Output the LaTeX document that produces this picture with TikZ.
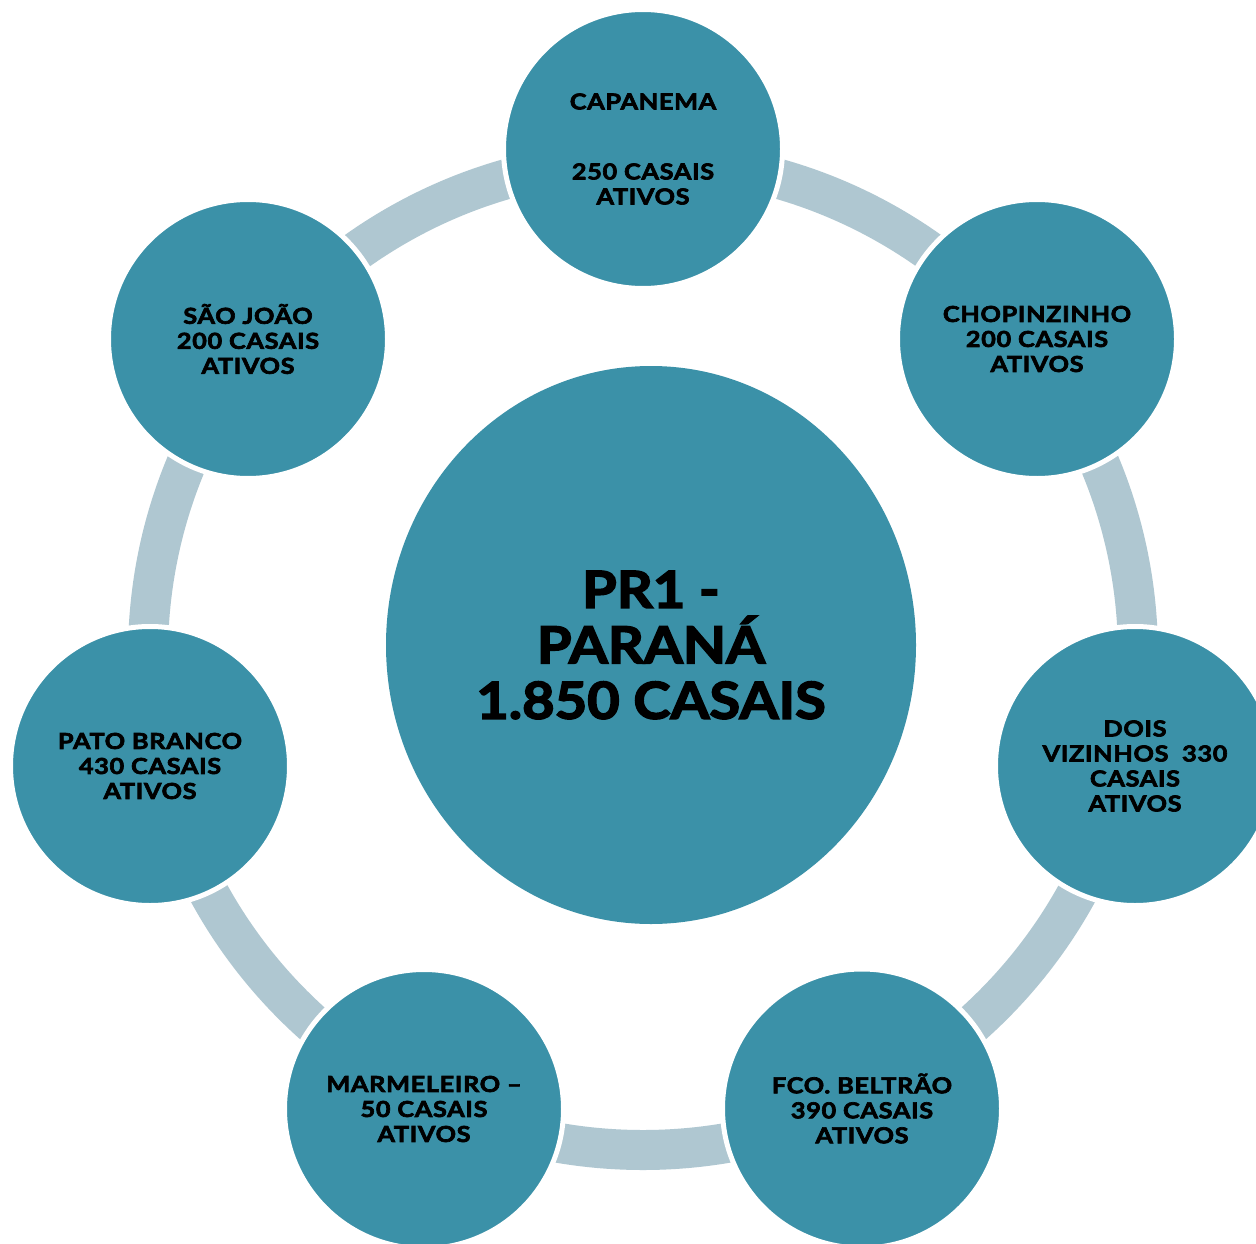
\documentclass[tikz,border=0pt]{standalone}
\usepackage{fontspec}
\setmainfont{Lato}
\newfontfamily\cityfont{Lato}[FakeStretch=1.15, LetterSpace=3, BoldFeatures={FakeBold=3}]
\newfontfamily\hubfont{Lato}[FakeStretch=1.1, BoldFeatures={FakeBold=3}]
\usetikzlibrary{shapes.geometric}
\definecolor{tealfill}{HTML}{3B91A8}
\definecolor{ringcol}{HTML}{AFC7D1}
\begin{document}
\begin{tikzpicture}[x=1pt,y=-1pt,
  city/.style={circle, fill=tealfill, draw=white, line width=5pt, minimum size=279pt, inner sep=0pt, align=center, text=black, font={\cityfont\bfseries\fontsize{22}{25}\selectfont}},
  hub/.style={ellipse, fill=tealfill, minimum width=530pt, minimum height=558pt, inner sep=0pt, align=center, text=black, font={\hubfont\bfseries\fontsize{51}{55.5}\selectfont}},
  ringline/.style={draw=ringcol, line width=40pt}]
\clip (0,0) rectangle (1256,1244);
\fill[white] (0,0) rectangle (1256,1244);
\coordinate (rc) at (643,655);
\draw[ringline] (rc) circle[radius=495pt];
\node[hub] (hub) at (651,645) {PR1 -\\PARANÁ\\1.850 CASAIS};
\node[city] (capanema) at (643,149) {CAPANEMA\\[45pt]250 CASAIS\\ATIVOS};
\node[city] (chopinzinho) at (1037,339) {CHOPINZINHO\\200 CASAIS\\ATIVOS};
\node[city] (dois) at (1135,766) {DOIS\\VIZINHOS\ \ 330\\CASAIS\\ATIVOS};
\node[city] (beltrao) at (862,1108.5) {FCO. BELTRÃO\\390 CASAIS\\ATIVOS};
\node[city] (marmeleiro) at (424,1109) {MARMELEIRO –\\50 CASAIS\\ATIVOS};
\node[city] (pato) at (150,766) {PATO BRANCO\\430 CASAIS\\ATIVOS};
\node[city] (saojoao) at (248,339) {SÃO JOÃO\\200 CASAIS\\ATIVOS};
\end{tikzpicture}
\end{document}
